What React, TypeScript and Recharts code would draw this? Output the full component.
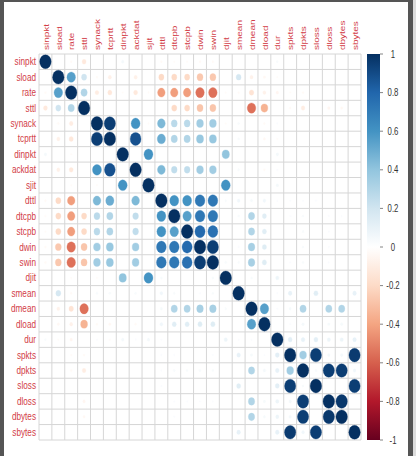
import { ReferenceLine, Scatter, ScatterChart, XAxis, YAxis } from "recharts";

const VARS = [
  "sinpkt", "sload", "rate", "sttl", "synack", "tcprtt", "dinpkt", "ackdat", "sjit",
  "dttl", "dtcpb", "stcpb", "dwin", "swin", "djit", "smean", "dmean", "dload", "dur",
  "spkts", "dpkts", "sloss", "dloss", "dbytes", "sbytes",
];

// upper-triangle correlations; the matrix is symmetric with 1 on the diagonal
const PAIRS: [string, string, number][] = [
  ["sinpkt", "rate", -0.03], ["sinpkt", "sttl", -0.12], ["sinpkt", "dinpkt", 0.05],
  ["sinpkt", "dttl", -0.03], ["sinpkt", "dtcpb", -0.02], ["sinpkt", "stcpb", -0.02],
  ["sinpkt", "dwin", -0.03], ["sinpkt", "swin", -0.03], ["sinpkt", "dur", 0.03],

  ["sload", "rate", 0.55], ["sload", "sttl", 0.2], ["sload", "synack", -0.03],
  ["sload", "tcprtt", -0.08], ["sload", "ackdat", -0.08], ["sload", "dttl", -0.2],
  ["sload", "dtcpb", -0.2], ["sload", "stcpb", -0.2], ["sload", "dwin", -0.27],
  ["sload", "swin", -0.27], ["sload", "smean", 0.18], ["sload", "dmean", -0.07],
  ["sload", "dload", -0.04], ["sload", "dur", -0.02],

  ["rate", "sttl", 0.3], ["rate", "synack", -0.1], ["rate", "tcprtt", -0.13],
  ["rate", "dinpkt", -0.02], ["rate", "ackdat", -0.12], ["rate", "sjit", -0.02],
  ["rate", "dttl", -0.42], ["rate", "dtcpb", -0.42], ["rate", "stcpb", -0.42],
  ["rate", "dwin", -0.55], ["rate", "swin", -0.55], ["rate", "djit", -0.02],
  ["rate", "smean", -0.03], ["rate", "dmean", -0.15], ["rate", "dload", -0.07],
  ["rate", "dur", -0.05], ["rate", "spkts", -0.02], ["rate", "dpkts", -0.03],

  ["sttl", "dtcpb", -0.2], ["sttl", "stcpb", -0.2], ["sttl", "dwin", -0.28],
  ["sttl", "swin", -0.28], ["sttl", "dmean", -0.55], ["sttl", "dload", -0.35],
  ["sttl", "spkts", -0.03], ["sttl", "dpkts", -0.1], ["sttl", "dloss", -0.05],
  ["sttl", "dbytes", -0.04],

  ["synack", "tcprtt", 0.95], ["synack", "ackdat", 0.6], ["synack", "sjit", -0.02],
  ["synack", "dttl", 0.45], ["synack", "dtcpb", 0.27], ["synack", "stcpb", 0.27],
  ["synack", "dwin", 0.35], ["synack", "swin", 0.35], ["synack", "djit", -0.02],
  ["synack", "smean", 0.03], ["synack", "dload", -0.03], ["synack", "dur", 0.02],

  ["tcprtt", "ackdat", 0.88], ["tcprtt", "dttl", 0.5], ["tcprtt", "dtcpb", 0.3],
  ["tcprtt", "stcpb", 0.3], ["tcprtt", "dwin", 0.38], ["tcprtt", "swin", 0.38],
  ["tcprtt", "smean", 0.03], ["tcprtt", "dload", -0.04], ["tcprtt", "dur", -0.02],

  ["dinpkt", "sjit", 0.6], ["dinpkt", "djit", 0.4], ["dinpkt", "dur", 0.05],

  ["ackdat", "dttl", 0.45], ["ackdat", "dtcpb", 0.25], ["ackdat", "stcpb", 0.25],
  ["ackdat", "dwin", 0.35], ["ackdat", "swin", 0.35], ["ackdat", "smean", 0.03],
  ["ackdat", "dload", -0.03], ["ackdat", "dur", 0.02],

  ["sjit", "djit", 0.6], ["sjit", "dur", 0.05],

  ["dttl", "dtcpb", 0.6], ["dttl", "stcpb", 0.6], ["dttl", "dwin", 0.72],
  ["dttl", "swin", 0.72], ["dttl", "djit", 0.03], ["dttl", "smean", 0.06],
  ["dttl", "dmean", 0.04], ["dttl", "dload", 0.06], ["dttl", "dur", 0.02],
  ["dttl", "spkts", 0.02], ["dttl", "dpkts", 0.02], ["dttl", "sloss", 0.02],

  ["dtcpb", "stcpb", 0.55], ["dtcpb", "dwin", 0.72], ["dtcpb", "swin", 0.72],
  ["dtcpb", "smean", 0.03], ["dtcpb", "dmean", 0.3], ["dtcpb", "dload", 0.13],
  ["dtcpb", "spkts", 0.02], ["dtcpb", "dpkts", 0.03], ["dtcpb", "dloss", 0.02],
  ["dtcpb", "dbytes", 0.02],

  ["stcpb", "dwin", 0.78], ["stcpb", "swin", 0.75], ["stcpb", "dmean", 0.3],
  ["stcpb", "dload", 0.13], ["stcpb", "dpkts", 0.03], ["stcpb", "dloss", 0.02],

  ["dwin", "swin", 0.95], ["dwin", "smean", 0.02], ["dwin", "dmean", 0.33],
  ["dwin", "dload", 0.14], ["dwin", "dpkts", 0.03], ["dwin", "dloss", 0.02],

  ["swin", "djit", 0.03], ["swin", "smean", 0.03], ["swin", "dmean", 0.33],
  ["swin", "dload", 0.14], ["swin", "spkts", 0.02], ["swin", "dpkts", 0.03],
  ["swin", "dloss", 0.02],

  ["djit", "dmean", 0.03], ["djit", "dur", 0.08],

  ["smean", "spkts", 0.1], ["smean", "sloss", 0.13], ["smean", "sbytes", 0.1],
  ["smean", "dur", 0.02],

  ["dmean", "dload", 0.55], ["dmean", "spkts", 0.04], ["dmean", "dpkts", 0.3],
  ["dmean", "dloss", 0.3], ["dmean", "dbytes", 0.3], ["dmean", "dur", 0.02],

  ["dload", "spkts", 0.02], ["dload", "dpkts", 0.05], ["dload", "dloss", 0.04],
  ["dload", "dbytes", 0.04],

  ["dur", "spkts", 0.12], ["dur", "dpkts", 0.1], ["dur", "sloss", 0.12],
  ["dur", "dloss", 0.08], ["dur", "dbytes", 0.08], ["dur", "sbytes", 0.1],

  ["spkts", "dpkts", 0.35], ["spkts", "sloss", 0.95], ["spkts", "dloss", 0.05],
  ["spkts", "dbytes", 0.05], ["spkts", "sbytes", 0.96],

  ["dpkts", "sloss", 0.03], ["dpkts", "dloss", 0.95], ["dpkts", "dbytes", 0.95],
  ["dpkts", "sbytes", 0.06],

  ["sloss", "sbytes", 0.95],
  ["dloss", "dbytes", 0.97],
];

const LEGEND_TICKS = [1, 0.8, 0.6, 0.4, 0.2, 0, -0.2, -0.4, -0.6, -0.8, -1];

// RdBu diverging ramp, -1 .. 1
const PALETTE = [
  "#67001F", "#B2182B", "#D6604D", "#F4A582", "#FDDBC7", "#FFFFFF",
  "#D1E5F0", "#92C5DE", "#4393C3", "#2166AC", "#053061",
];

const W = 416;
const H = 456;
const LEFT = 39;
const TOP = 54;
const PLOT_W = 322;
const PLOT_H = 386;
const N = VARS.length;
const CELL_W = PLOT_W / N;
const CELL_H = PLOT_H / N;
const LABEL = "#d23c46";
const SQUEEZE = 0.78;

function hex(c: string) {
  return [1, 3, 5].map((i) => parseInt(c.slice(i, i + 2), 16));
}

function corrColor(r: number) {
  const t = ((r + 1) / 2) * 10;
  const i = Math.min(9, Math.max(0, Math.floor(t)));
  const f = t - i;
  const a = hex(PALETTE[i]);
  const b = hex(PALETTE[i + 1]);
  const m = a.map((v, k) => Math.round(v + (b[k] - v) * f));
  return `rgb(${m[0]},${m[1]},${m[2]})`;
}

const matrix: number[][] = VARS.map((_, i) => VARS.map((__, j) => (i === j ? 1 : 0)));
PAIRS.forEach(([a, b, r]) => {
  const i = VARS.indexOf(a);
  const j = VARS.indexOf(b);
  matrix[i][j] = r;
  matrix[j][i] = r;
});

const cells = matrix.flatMap((row, i) =>
  row.map((r, j) => ({ x: j, y: i, r })).filter((c) => c.r !== 0),
);

const idx = VARS.map((_, i) => i);
const bounds = Array.from({ length: N + 1 }, (_, k) => k - 0.5);

const CorrCircle = (props: any) => {
  const { cx, cy, payload } = props;
  const s = Math.sqrt(Math.abs(payload.r)) * 0.45;
  const col = corrColor(payload.r);
  return <ellipse cx={cx} cy={cy} rx={s * CELL_W} ry={s * CELL_H} fill={col} stroke={col} strokeWidth={0.3} />;
};

const ColTick = (props: any) => {
  const { x, payload } = props;
  return (
    <text
      transform={`translate(${x + 3.2},${TOP - 4}) scale(${SQUEEZE},1) rotate(-90)`}
      fill={LABEL}
      fontSize={10}
      fontFamily="Liberation Sans, Arial, sans-serif"
    >
      {VARS[payload.value]}
    </text>
  );
};

const RowTick = (props: any) => {
  const { y, payload } = props;
  return (
    <text
      transform={`translate(${LEFT - 3},${y + 3.5}) scale(${SQUEEZE},1)`}
      textAnchor="end"
      fill={LABEL}
      fontSize={10.5}
      fontFamily="Liberation Sans, Arial, sans-serif"
    >
      {VARS[payload.value]}
    </text>
  );
};

function ColorLegend() {
  const x0 = 367;
  const bw = 13;
  return (
    <svg width={W} height={H} style={{ position: "absolute", left: 0, top: 0, pointerEvents: "none" }}>
      <defs>
        <linearGradient id="corrRamp" x1="0" y1="1" x2="0" y2="0">
          {PALETTE.map((c, i) => (
            <stop key={i} offset={i / (PALETTE.length - 1)} stopColor={c} />
          ))}
        </linearGradient>
      </defs>
      <rect x={x0} y={TOP} width={bw} height={PLOT_H} fill="url(#corrRamp)" />
      {LEGEND_TICKS.map((v) => {
        const y = TOP + ((1 - v) / 2) * PLOT_H;
        return (
          <g key={v}>
            <line x1={x0 + bw} x2={x0 + bw + 3} y1={y} y2={y} stroke="#666" strokeWidth={0.8} />
            <text
              transform={`translate(393,${y + 3.5}) scale(${SQUEEZE},1)`}
              textAnchor="middle"
              fontSize={10}
              fill="#333"
              fontFamily="Liberation Sans, Arial, sans-serif"
            >
              {v}
            </text>
          </g>
        );
      })}
    </svg>
  );
}

export default function App() {
  return (
    <div style={{ position: "absolute", left: 0, top: 0, width: W, height: H, background: "#fff", overflow: "hidden" }}>
      <ScatterChart
        width={W}
        height={H}
        margin={{ top: 0, left: 0, right: W - LEFT - PLOT_W, bottom: H - TOP - PLOT_H }}
      >
        <XAxis
          type="number"
          dataKey="x"
          orientation="top"
          domain={[-0.5, N - 0.5]}
          ticks={idx}
          interval={0}
          height={TOP}
          axisLine={false}
          tickLine={false}
          tick={<ColTick />}
          allowDataOverflow
        />
        <YAxis
          type="number"
          dataKey="y"
          domain={[-0.5, N - 0.5]}
          reversed
          ticks={idx}
          interval={0}
          width={LEFT}
          axisLine={false}
          tickLine={false}
          tick={<RowTick />}
          allowDataOverflow
        />
        {bounds.map((b) => (
          <ReferenceLine key={`v${b}`} x={b} stroke="#d6d6d6" strokeWidth={1} />
        ))}
        {bounds.map((b) => (
          <ReferenceLine key={`h${b}`} y={b} stroke="#d6d6d6" strokeWidth={1} />
        ))}
        <Scatter data={cells} shape={<CorrCircle />} isAnimationActive={false} />
      </ScatterChart>
      <ColorLegend />
      {/* window frame */}
      <div style={{ position: "absolute", left: 0, top: 0, width: 4, height: H, background: "#555" }} />
      <div style={{ position: "absolute", left: 0, top: 0, width: 413, height: 2, background: "#555" }} />
      <div style={{ position: "absolute", left: 408, top: 0, width: 5, height: H, background: "#555" }} />
      <div style={{ position: "absolute", left: 413, top: 0, width: 3, height: H, background: "#ddd" }} />
    </div>
  );
}
